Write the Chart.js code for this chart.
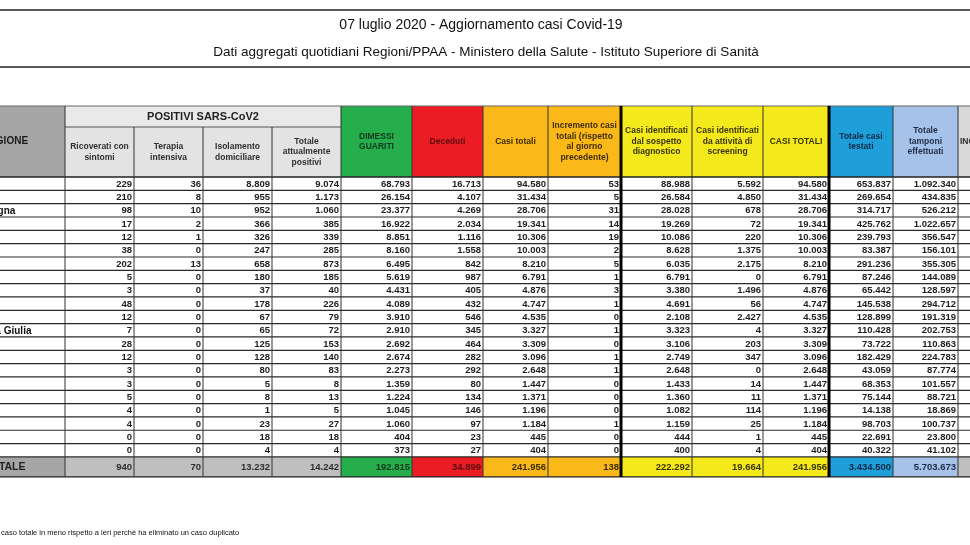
<!DOCTYPE html>
<html>
<head>
<meta charset="utf-8">
<script src="https://cdn.jsdelivr.net/npm/chart.js@4.4.1/dist/chart.umd.min.js"></script>
<style>
  html, body { margin: 0; padding: 0; background: #fff; }
  canvas { display: block; }
</style>
</head>
<body>
<canvas id="tabella" width="970" height="545" style="width:970px;height:545px"></canvas>
<script>
const titolo = '07 luglio 2020 - Aggiornamento casi Covid-19';
const sottotitolo = 'Dati aggregati quotidiani Regioni/PPAA - Ministero della Salute - Istituto Superiore di Sanità';
const nota = 'caso totale in meno rispetto a ieri perchè ha eliminato un caso duplicato';

const regioni = ['Lombardia', 'Piemonte', 'Emilia-Romagna', 'Veneto', 'Toscana', 'Liguria', 'Lazio',
  'Marche', 'Campania', 'Puglia', 'P.A. Trento', 'Friuli Venezia Giulia', 'Abruzzo', 'Sicilia',
  'P.A. Bolzano', 'Umbria', 'Sardegna', "Valle d'Aosta", 'Calabria', 'Molise', 'Basilicata'];

const ricoverati = [229, 210, 98, 17, 12, 38, 202, 5, 3, 48, 12, 7, 28, 12, 3, 3, 5, 4, 4, 0, 0];
const terapiaIntensiva = [36, 8, 10, 2, 1, 0, 13, 0, 0, 0, 0, 0, 0, 0, 0, 0, 0, 0, 0, 0, 0];
const isolamento = [8809, 955, 952, 366, 326, 247, 658, 180, 37, 178, 67, 65, 125, 128, 80, 5, 8, 1, 23, 18, 4];
const totalePositivi = [9074, 1173, 1060, 385, 339, 285, 873, 185, 40, 226, 79, 72, 153, 140, 83, 8, 13, 5, 27, 18, 4];
const dimessiGuariti = [68793, 26154, 23377, 16922, 8851, 8160, 6495, 5619, 4431, 4089, 3910, 2910, 2692, 2674,
  2273, 1359, 1224, 1045, 1060, 404, 373];
const deceduti = [16713, 4107, 4269, 2034, 1116, 1558, 842, 987, 405, 432, 546, 345, 464, 282, 292, 80, 134, 146, 97, 23, 27];
const casiTotali = [94580, 31434, 28706, 19341, 10306, 10003, 8210, 6791, 4876, 4747, 4535, 3327, 3309, 3096,
  2648, 1447, 1371, 1196, 1184, 445, 404];
const incremento = [53, 5, 31, 14, 19, 2, 5, 1, 3, 1, 0, 1, 0, 1, 1, 0, 0, 0, 1, 0, 0];
const sospettoDiagnostico = [88988, 26584, 28028, 19269, 10086, 8628, 6035, 6791, 3380, 4691, 2108, 3323, 3106,
  2749, 2648, 1433, 1360, 1082, 1159, 444, 400];
const screening = [5592, 4850, 678, 72, 220, 1375, 2175, 0, 1496, 56, 2427, 4, 203, 347, 0, 14, 11, 114, 25, 1, 4];
const casiTestati = [653837, 269654, 314717, 425762, 239793, 83387, 291236, 87246, 65442, 145538, 128899, 110428,
  73722, 182429, 43059, 68353, 75144, 14138, 98703, 22691, 40322];
const tamponi = [1092340, 434835, 526212, 1022657, 356547, 156101, 355305, 144089, 128597, 294712, 191319,
  202753, 110863, 224783, 87774, 101557, 88721, 18869, 100737, 23800, 41102];
const totali = [940, 70, 13232, 14242, 192815, 34899, 241956, 138, 222292, 19664, 241956, 3434500, 5703673];

const intestazioni = [
  ['REGIONE'],
  ['Ricoverati con', 'sintomi'],
  ['Terapia', 'intensiva'],
  ['Isolamento', 'domiciliare'],
  ['Totale', 'attualmente', 'positivi'],
  ['DIMESSI', 'GUARITI'],
  ['Deceduti'],
  ['Casi totali'],
  ['Incremento casi', 'totali (rispetto', 'al giorno', 'precedente)'],
  ['Casi identificati', 'dal sospetto', 'diagnostico'],
  ['Casi identificati', 'da attività di', 'screening'],
  ['CASI TOTALI'],
  ['Totale casi', 'testati'],
  ['Totale', 'tamponi', 'effettuati'],
  ['INGRESSI']
];
const gruppoPositivi = 'POSITIVI SARS-CoV2';
const serie = [ricoverati, terapiaIntensiva, isolamento, totalePositivi, dimessiGuariti, deceduti, casiTotali,
  incremento, sospettoDiagnostico, screening, casiTotali, casiTestati, tamponi, []];

// layout (design pixels)
const bordi = [-55, 65, 134, 203, 272, 341, 412, 483, 548, 621, 692, 763, 829, 893, 958, 1040];
const bordiSpessi = [621, 829];
const inizioNomi = -63;
const topTabella = 106, fineGruppo = 127, fineIntestazione = 177, altezzaRiga = 13.33, altezzaTotale = 20;

const sfondoIntestazione = ['#a6a6a6', '#e3e3e3', '#e3e3e3', '#e3e3e3', '#e3e3e3', '#26ad4c', '#ec1c24', '#fbb919',
  '#fbb919', '#f4e91b', '#f4e91b', '#f4e91b', '#1f9fda', '#a7c2e8', '#d9d9d9'];
const sfondoTotale = ['#a6a6a6', '#bfbfbf', '#bfbfbf', '#bfbfbf', '#bfbfbf', '#26ad4c', '#ec1c24', '#fbb919',
  '#fbb919', '#f4e91b', '#f4e91b', '#f4e91b', '#1f9fda', '#a7c2e8', '#bfbfbf'];
const testoColore = ['#1a1a1a', '#2e2e2e', '#2e2e2e', '#2e2e2e', '#2e2e2e', '#0f3a1c', '#5a0c0c', '#3e2c05', '#3e2c05',
  '#3a3608', '#3a3608', '#3a3608', '#0c2a44', '#1c2c48', '#2e2e2e'];

const FONT = '"Liberation Sans", Arial, sans-serif';
const fmt = (n) => String(n).replace(/\B(?=(\d{3})+(?!\d))/g, '.');

const tablePlugin = {
  id: 'tabella',
  afterDraw(chart) {
    const { ctx, scales: { x, y } } = chart;
    const X = (v) => x.getPixelForValue(v);
    const Y = (v) => y.getPixelForValue(v);
    const rect = (x0, y0, x1, y1, color) => {
      ctx.fillStyle = color;
      ctx.fillRect(X(x0), Y(y0), X(x1) - X(x0), Y(y1) - Y(y0));
    };
    const line = (x0, y0, x1, y1, w, color) => {
      ctx.beginPath();
      ctx.lineWidth = w;
      ctx.strokeStyle = color;
      ctx.moveTo(X(x0), Y(y0));
      ctx.lineTo(X(x1), Y(y1));
      ctx.stroke();
    };
    const nRighe = regioni.length;
    const rigaTop = (i) => fineIntestazione + i * altezzaRiga;
    const fineCorpo = rigaTop(nRighe);
    const fineTab = fineCorpo + altezzaTotale;
    const right = bordi[bordi.length - 1];

    ctx.save();
    ctx.textBaseline = 'middle';

    // titles
    line(0, 10, 970, 10, 1.5, '#222');
    line(0, 67, 970, 67, 1.5, '#222');
    ctx.fillStyle = '#111';
    ctx.textAlign = 'center';
    ctx.font = `14px ${FONT}`;
    ctx.fillText(titolo, X(481), Y(25));
    ctx.font = `13.5px ${FONT}`;
    ctx.fillText(sottotitolo, X(486), Y(52));

    // backgrounds
    for (let c = 0; c < bordi.length - 1; c++) {
      const top = (c >= 1 && c <= 4) ? fineGruppo : topTabella;
      rect(bordi[c], top, bordi[c + 1], fineIntestazione, sfondoIntestazione[c]);
      rect(bordi[c], fineCorpo, bordi[c + 1], fineTab, sfondoTotale[c]);
    }
    rect(bordi[1], topTabella, bordi[5], fineGruppo, '#e9e9e9');

    // grid
    line(bordi[0], topTabella, right, topTabella, 1, '#666');
    line(bordi[1], fineGruppo, bordi[5], fineGruppo, 1, '#555');
    line(bordi[0], fineIntestazione, right, fineIntestazione, 1.3, '#222');
    for (let i = 1; i <= nRighe; i++) {
      line(bordi[0], rigaTop(i), right, rigaTop(i), 1.2, '#2a2a2a');
    }
    line(bordi[0], fineTab, right, fineTab, 1.3, '#222');
    bordi.forEach((b, c) => {
      const top = (c >= 2 && c <= 4) ? fineGruppo : topTabella;
      const spesso = bordiSpessi.includes(b);
      line(b, top, b, fineTab, spesso ? 3 : 1, spesso ? '#000' : '#333');
    });

    // header texts
    ctx.textAlign = 'center';
    ctx.font = `bold 11px ${FONT}`;
    ctx.fillStyle = '#222';
    ctx.fillText(gruppoPositivi, X((bordi[1] + bordi[5]) / 2), Y(117));
    intestazioni.forEach((righe, c) => {
      const ultima = c === intestazioni.length - 1;
      const cx = ultima ? bordi[c] + 2 : (bordi[c] + bordi[c + 1]) / 2;
      ctx.textAlign = ultima ? 'left' : 'center';
      const top = (c >= 1 && c <= 4) ? fineGruppo : topTabella;
      const cy = (top + fineIntestazione) / 2;
      ctx.fillStyle = testoColore[c];
      ctx.font = c === 0 ? `bold 10px ${FONT}` : `bold 8.5px ${FONT}`;
      righe.forEach((t, k) => {
        ctx.fillText(t, X(cx), Y(cy + (k - (righe.length - 1) / 2) * 10.5));
      });
    });

    // body
    regioni.forEach((r, i) => {
      const cy = rigaTop(i) + altezzaRiga / 2 + 0.5;
      ctx.fillStyle = '#111';
      ctx.textAlign = 'left';
      ctx.font = `bold 10px ${FONT}`;
      ctx.fillText(r, X(inizioNomi), Y(cy));
      ctx.textAlign = 'right';
      ctx.fillStyle = '#1e1e1e';
      ctx.font = `bold 9.5px ${FONT}`;
      serie.forEach((s, c) => {
        if (s[i] === undefined) return;
        ctx.fillText(fmt(s[i]), X(bordi[c + 2] - 2), Y(cy));
      });
    });

    // total row
    const ty = fineCorpo + altezzaTotale / 2 + 0.5;
    ctx.font = `bold 10.5px ${FONT}`;
    ctx.textAlign = 'center';
    ctx.fillStyle = '#222';
    ctx.fillText('TOTALE', X((bordi[0] + bordi[1]) / 2), Y(ty));
    ctx.font = `bold 9.5px ${FONT}`;
    ctx.textAlign = 'right';
    totali.forEach((v, c) => {
      ctx.fillStyle = testoColore[c + 1];
      ctx.fillText(fmt(v), X(bordi[c + 2] - 2), Y(ty));
    });

    // footnote
    ctx.textAlign = 'left';
    ctx.fillStyle = '#111';
    ctx.font = `7.5px ${FONT}`;
    ctx.fillText(nota, X(1), Y(533));
    ctx.restore();
  }
};

new Chart(document.getElementById('tabella'), {
  type: 'scatter',
  data: { datasets: [] },
  options: {
    responsive: false,
    animation: false,
    layout: { padding: 0 },
    plugins: { legend: { display: false }, tooltip: { enabled: false } },
    scales: {
      x: { type: 'linear', min: 0, max: 970, display: false },
      y: { type: 'linear', min: 0, max: 545, reverse: true, display: false }
    }
  },
  plugins: [tablePlugin]
});
</script>
</body>
</html>
